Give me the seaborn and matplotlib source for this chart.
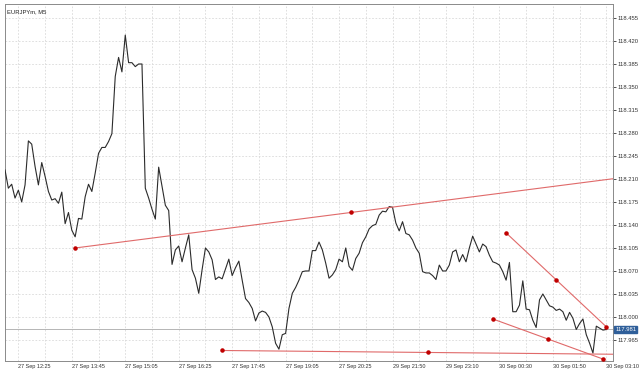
import numpy as np
import pandas as pd
import matplotlib
matplotlib.use("Agg")
import matplotlib.pyplot as plt
import seaborn as sns

# ---- data ----
symbol_title = "EURJPYm, M5"
closes = [
    118.224, 118.196, 118.202, 118.181, 118.193, 118.175, 118.201, 118.268, 118.263, 118.229,
    118.201, 118.235, 118.214, 118.191, 118.178, 118.180, 118.173, 118.190, 118.142, 118.159,
    118.132, 118.122, 118.150, 118.149, 118.183, 118.202, 118.191, 118.219, 118.249, 118.258,
    118.258, 118.267, 118.279, 118.366, 118.395, 118.373, 118.429, 118.387, 118.387, 118.381,
    118.385, 118.385, 118.196, 118.181, 118.164, 118.149, 118.228, 118.199, 118.170, 118.162,
    118.080, 118.102, 118.108, 118.084, 118.105, 118.125, 118.072, 118.059, 118.036, 118.072,
    118.105, 118.099, 118.087, 118.057, 118.061, 118.058, 118.073, 118.088, 118.063, 118.075,
    118.085, 118.056, 118.028, 118.022, 118.013, 117.994, 118.006, 118.009, 118.007, 118.000,
    117.985, 117.960, 117.951, 117.973, 117.975, 118.013, 118.036, 118.045, 118.056, 118.069,
    118.070, 118.070, 118.101, 118.101, 118.114, 118.102, 118.082, 118.059, 118.064, 118.072,
    118.088, 118.084, 118.105, 118.077, 118.071, 118.089, 118.097, 118.113, 118.122, 118.134,
    118.139, 118.141, 118.155, 118.161, 118.160, 118.168, 118.167, 118.143, 118.131, 118.145,
    118.127, 118.125, 118.117, 118.105, 118.097, 118.069, 118.067, 118.067, 118.063, 118.057,
    118.079, 118.070, 118.070, 118.079, 118.099, 118.102, 118.084, 118.095, 118.084, 118.105,
    118.123, 118.111, 118.099, 118.111, 118.107, 118.094, 118.084, 118.082, 118.079, 118.069,
    118.056, 118.083, 118.008, 118.008, 118.018, 118.055, 118.012, 118.011, 117.995, 117.984,
    118.026, 118.035, 118.026, 118.017, 118.015, 118.010, 118.012, 118.008, 117.995, 118.007,
    117.998, 117.981, 117.990, 117.997, 117.973, 117.960, 117.945, 117.986, 117.983, 117.980,
    117.981,
]
time_label_bars = [4, 20, 36, 52, 68, 84, 100, 116, 132, 148, 164, 180]
time_labels = ["27 Sep 12:25", "27 Sep 13:45", "27 Sep 15:05", "27 Sep 16:25",
               "27 Sep 17:45", "27 Sep 19:05", "27 Sep 20:25", "29 Sep 21:50",
               "29 Sep 23:10", "30 Sep 00:30", "30 Sep 01:50", "30 Sep 03:10"]
price_ticks = [117.965, 118.000, 118.035, 118.070, 118.105, 118.140, 118.175, 118.210,
               118.245, 118.280, 118.315, 118.350, 118.385, 118.420, 118.455]

# trend lines: (start bar, start price, end bar, end price)
trend_rising = (21, 118.105, 186, 118.213)
trend_flat = (65, 117.949, 188, 117.943)
trend_upper_down = (150, 118.128, 180, 117.985)
trend_lower_down = (146, 117.997, 179, 117.936)

# ---- plot ----
sns.set_style("white")
plt.rcParams['font.family'] = ['Liberation Sans', 'DejaVu Sans']

fig = plt.figure(figsize=(6.4, 3.73), dpi=100, facecolor="white")
ax = fig.add_axes([5/640, 12/373, 608/640, 357/373])
ax.set_facecolor("white")

df = pd.DataFrame({"bar": np.arange(len(closes)), "close": closes})

# grid
grid_x = np.arange(4, 183, 8)
for gx in grid_x:
    ax.axvline(gx, color="#d9d9d9", lw=0.6, ls=(0, (2, 2)), zorder=0)
for gy in price_ticks:
    ax.axhline(gy, color="#d9d9d9", lw=0.6, ls=(0, (2, 2)), zorder=0)

# current price line
ax.axhline(closes[-1], color="#b5b5b5", lw=0.7, zorder=1)

sns.lineplot(data=df, x="bar", y="close", ax=ax, color="#2b2b2b", lw=0.8, zorder=3)

for (b0, p0, b1, p1) in [trend_rising, trend_flat, trend_upper_down, trend_lower_down]:
    tdf = pd.DataFrame({"bar": [b0, b1], "price": [p0, p1]})
    sns.lineplot(data=tdf, x="bar", y="price", ax=ax, color="#e06a6a", lw=0.8, zorder=4)
    mids = pd.DataFrame({"bar": [b0, (b0 + b1) / 2, b1], "price": [p0, (p0 + p1) / 2, p1]})
    ax.scatter(mids["bar"], mids["price"], s=5, color="#c00000", zorder=5, clip_on=True)

ax.set_xlim(0, 182)
ax.set_ylim(117.933, 118.4763)

ax.yaxis.tick_right()
ax.set_yticks(price_ticks)
ax.set_yticklabels([f"{t:.3f}" for t in price_ticks])
ax.tick_params(axis="y", direction="out", length=2, width=0.6, pad=1, labelsize=4.2,
               colors="#333333", right=True, left=False)
ax.set_xticks(time_label_bars)
ax.set_xticklabels(time_labels, ha="left")
ax.tick_params(axis="x", direction="out", length=0, pad=2, labelsize=4.0, colors="#333333")
ax.set_xlabel("")
ax.set_ylabel("")

for side in ["left", "right", "top", "bottom"]:
    ax.spines[side].set_visible(True)
    ax.spines[side].set_color("#8a8a8a")
    ax.spines[side].set_linewidth(0.7)

ax.text(0.003, 0.985, symbol_title, transform=ax.transAxes, fontsize=4.2,
        color="#222222", va="top", ha="left")

# current price label box on right axis
ax.annotate(f"{closes[-1]:.3f}", xy=(1.0, closes[-1]), xycoords=("axes fraction", "data"),
            xytext=(1.5, 0), textcoords="offset points", fontsize=4.2, color="white",
            va="center", ha="left",
            bbox=dict(boxstyle="square,pad=0.15", fc="#2f5f9a", ec="#2f5f9a"),
            annotation_clip=False)

fig.savefig("out.png", dpi=100, facecolor="white")
